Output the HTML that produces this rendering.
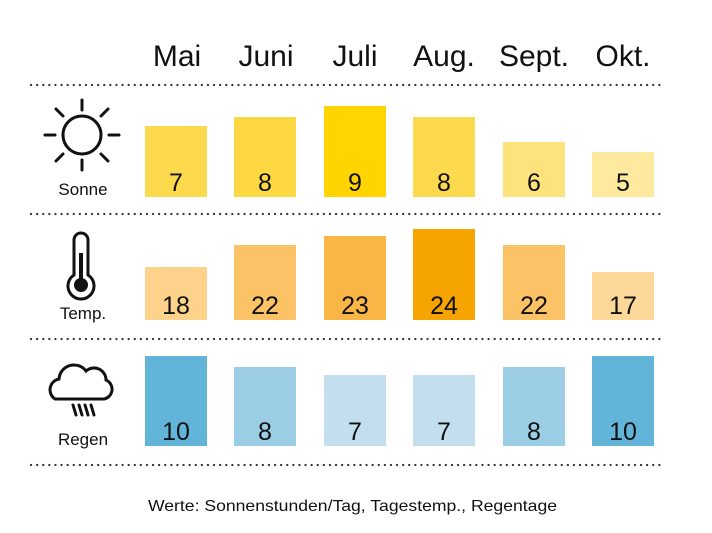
<!DOCTYPE html>
<html><head><meta charset="utf-8"><style>
body{margin:0;background:#fff;}
svg text{font-family:"Liberation Sans",sans-serif;fill:#111;}
</style></head><body>
<svg width="712" height="528" viewBox="0 0 712 528" xmlns="http://www.w3.org/2000/svg">
<g font-size="30" text-anchor="middle">
<text x="177" y="66">Mai</text><text x="266" y="66">Juni</text><text x="355" y="66">Juli</text>
<text x="444" y="66">Aug.</text><text x="534" y="66">Sept.</text><text x="623" y="66">Okt.</text>
</g>
<g stroke="#333" stroke-width="2.2" stroke-dasharray="0.1 6" stroke-linecap="round">
<line x1="31" y1="85" x2="662" y2="85"/><line x1="31" y1="214" x2="662" y2="214"/>
<line x1="31" y1="339" x2="662" y2="339"/><line x1="31" y1="465" x2="662" y2="465"/>
</g>
<rect x="145" y="126" width="62" height="71" fill="#fdd94e"/>
<rect x="234" y="117" width="62" height="80" fill="#fdd843"/>
<rect x="324" y="106" width="62" height="91" fill="#ffd400"/>
<rect x="413" y="117" width="62" height="80" fill="#fdd94e"/>
<rect x="503" y="142" width="62" height="55" fill="#fee27b"/>
<rect x="592" y="152" width="62" height="45" fill="#feea9f"/>
<rect x="145" y="267" width="62" height="53" fill="#fdd28a"/>
<rect x="234" y="245" width="62" height="75" fill="#fbc266"/>
<rect x="324" y="236" width="62" height="84" fill="#f9b545"/>
<rect x="413" y="229" width="62" height="91" fill="#f5a400"/>
<rect x="503" y="245" width="62" height="75" fill="#fbc266"/>
<rect x="592" y="272" width="62" height="48" fill="#fdd899"/>
<rect x="145" y="356" width="62" height="90" fill="#62b5d9"/>
<rect x="234" y="367" width="62" height="79" fill="#9bcde5"/>
<rect x="324" y="375" width="62" height="71" fill="#c3dfee"/>
<rect x="413" y="375" width="62" height="71" fill="#c3dfee"/>
<rect x="503" y="367" width="62" height="79" fill="#9bcde5"/>
<rect x="592" y="356" width="62" height="90" fill="#62b5d9"/>
<g font-size="25" text-anchor="middle">
<text x="176" y="191">7</text><text x="265" y="191">8</text><text x="355" y="191">9</text>
<text x="444" y="191">8</text><text x="534" y="191">6</text><text x="623" y="191">5</text>
<text x="176" y="314">18</text><text x="265" y="314">22</text><text x="355" y="314">23</text>
<text x="444" y="314">24</text><text x="534" y="314">22</text><text x="623" y="314">17</text>
<text x="176" y="440">10</text><text x="265" y="440">8</text><text x="355" y="440">7</text>
<text x="444" y="440">7</text><text x="534" y="440">8</text><text x="623" y="440">10</text>
</g>
<g stroke="#111" stroke-width="3" fill="none" stroke-linecap="round">
<circle cx="82" cy="135" r="19"/>
<line x1="82" y1="100" x2="82" y2="110"/><line x1="82" y1="160" x2="82" y2="170"/>
<line x1="45" y1="135" x2="55" y2="135"/><line x1="109" y1="135" x2="119" y2="135"/>
<line x1="56" y1="109" x2="63" y2="116"/><line x1="101" y1="154" x2="108" y2="161"/>
<line x1="108" y1="109" x2="101" y2="116"/><line x1="63" y1="154" x2="56" y2="161"/>
<path d="M74 246 V240 a7 7 0 0 1 14 0 V275 a13 13 0 1 1 -14 0 Z"/>
<path d="M55 399 a11 11 0 0 1 4 -20 a15 15 0 0 1 27 -8 a12 12 0 0 1 20 9 a10 10 0 0 1 -2 19 Z"/>
<line x1="73" y1="405" x2="76" y2="415"/><line x1="79" y1="405" x2="82" y2="415"/>
<line x1="85" y1="405" x2="88" y2="415"/><line x1="91" y1="405" x2="94" y2="415"/>
</g>
<line x1="81" y1="253" x2="81" y2="280" stroke="#111" stroke-width="4"/>
<circle cx="81" cy="285" r="7" fill="#111"/>
<g font-size="17" text-anchor="middle">
<text x="83" y="195">Sonne</text><text x="83" y="319">Temp.</text><text x="83" y="445">Regen</text>
</g>
<text x="148" y="511" font-size="16" textLength="409" lengthAdjust="spacingAndGlyphs">Werte: Sonnenstunden/Tag, Tagestemp., Regentage</text>
</svg>
</body></html>
